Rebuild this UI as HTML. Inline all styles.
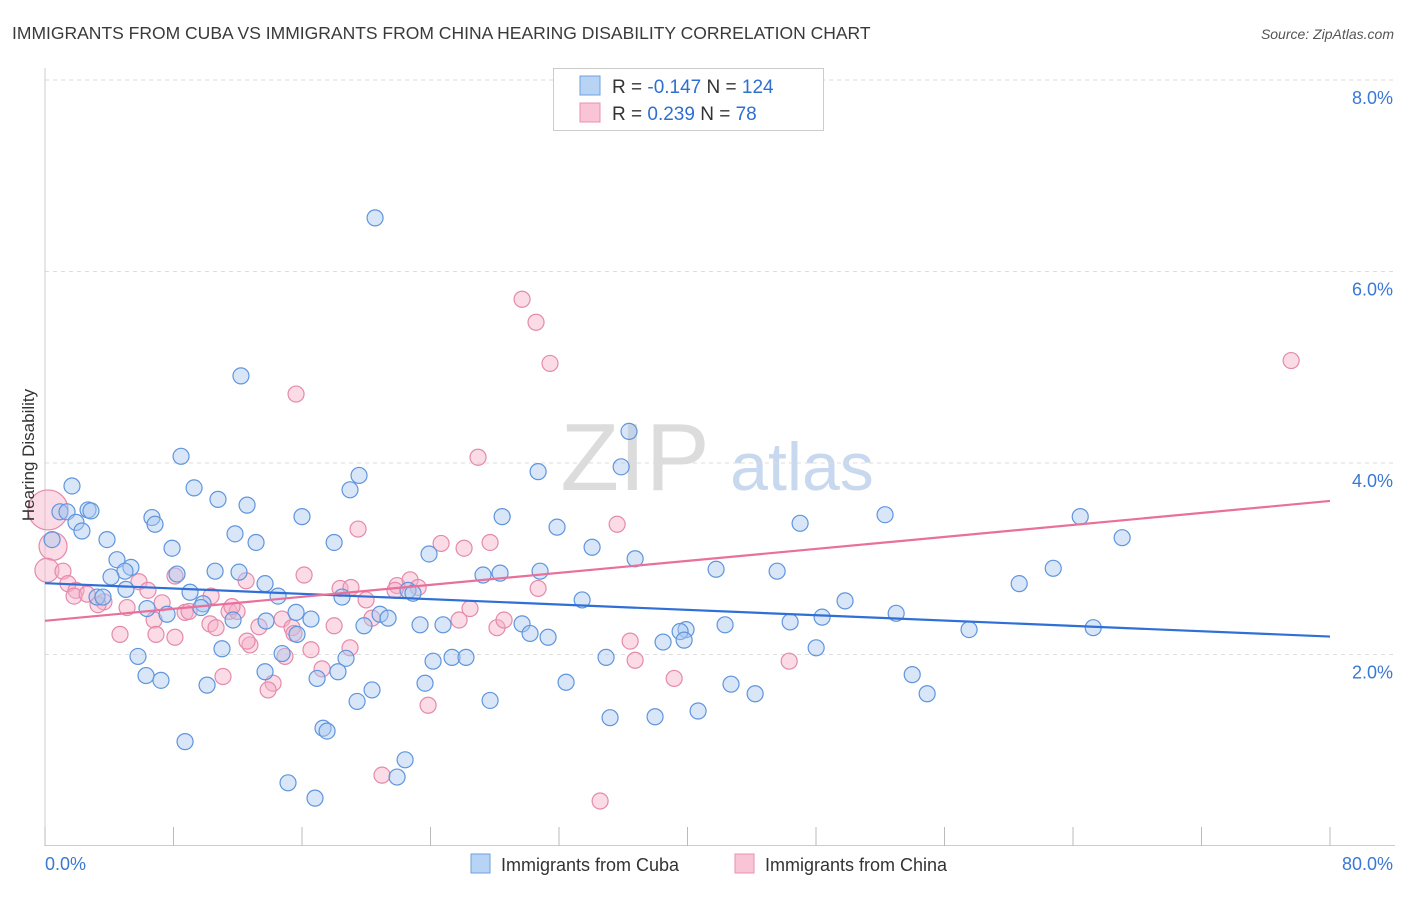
<!DOCTYPE html>
<html><head><meta charset="utf-8"><style>
body{margin:0;background:#fff;font-family:"Liberation Sans",sans-serif}
svg text{font-family:"Liberation Sans",sans-serif}
</style></head><body>
<svg id="chart" width="1406" height="892" viewBox="0 0 1406 892" xmlns="http://www.w3.org/2000/svg">
<text x="12" y="39" font-size="17.5" fill="#3a3a3a">IMMIGRANTS FROM CUBA VS IMMIGRANTS FROM CHINA HEARING DISABILITY CORRELATION CHART</text>
<text x="1394" y="39" font-size="14" fill="#555" font-style="italic" text-anchor="end">Source: ZipAtlas.com</text>
<g>
<text x="635" y="490" font-size="96" fill="#dcdcdc" font-family="Liberation Serif,serif" text-anchor="middle">ZIP</text>
<text x="802" y="490" font-size="68" fill="#c8d8ee" text-anchor="middle">atlas</text>
</g>
<g id="grid"></g>
<g id="axes"></g>
<g id="pts"></g>
<g id="trend"></g>
<text transform="translate(34,455) rotate(-90)" font-size="17" fill="#333" text-anchor="middle">Hearing Disability</text>
<g>
<rect x="553.5" y="68.5" width="270" height="62" fill="#fff" stroke="#ccc"/>
<rect x="580" y="76" width="20" height="19" fill="#b8d4f5" stroke="#6fa0e0"/>
<rect x="580" y="103" width="20" height="19" fill="#f9c4d6" stroke="#e890b0"/>
<text x="612" y="93" font-size="19" fill="#333">R = <tspan fill="#2f6fd0">-0.147</tspan>   N = <tspan fill="#2f6fd0">124</tspan></text>
<text x="612" y="120" font-size="19" fill="#333">R =  <tspan fill="#2f6fd0">0.239</tspan>   N =   <tspan fill="#2f6fd0">78</tspan></text>
</g>
<g>
<rect x="471" y="854" width="19" height="19" fill="#b8d4f5" stroke="#6fa0e0"/>
<text x="501" y="871" font-size="18" fill="#333">Immigrants from Cuba</text>
<rect x="735" y="854" width="19" height="19" fill="#f9c4d6" stroke="#e890b0"/>
<text x="765" y="871" font-size="18" fill="#333">Immigrants from China</text>
</g>
</svg>
<script>
const cubaX=[20.55,12.2,36.36,8.47,19.55,30.7,35.87,18.99,9.28,1.68,10.77,12.58,0.93,1.37,2.68,2.86,16.0,28.46,6.66,6.85,1.93,2.30,11.83,3.86,13.14,18.0,31.88,47.01,52.3,64.45,67.06,0.44,7.91,34.06,23.91,36.74,62.77,4.48,5.35,4.98,4.11,10.59,12.08,27.27,28.33,30.82,41.78,45.58,8.22,13.7,60.65,9.03,5.04,3.24,3.61,14.51,18.49,22.6,22.91,33.44,9.84,6.35,7.60,9.71,15.63,16.56,20.86,21.36,11.71,13.76,19.86,23.35,24.78,29.7,30.2,31.32,39.91,39.54,42.34,46.39,48.38,49.81,52.99,57.53,65.26,11.02,15.69,14.76,5.79,18.74,24.16,25.34,26.21,34.93,38.48,39.79,48.01,6.29,7.22,10.09,13.7,16.94,18.24,20.36,19.43,23.66,27.71,32.44,42.71,44.21,53.99,54.92,35.18,37.98,40.66,17.31,17.56,8.72,22.42,21.92,15.13,16.81];
const cubaY=[6.56,4.91,4.33,4.07,3.87,3.91,3.96,3.72,3.74,3.76,3.62,3.56,3.49,3.49,3.51,3.50,3.44,3.44,3.43,3.36,3.38,3.29,3.26,3.20,3.17,3.17,3.33,3.37,3.46,3.44,3.22,3.20,3.11,3.12,3.05,3.00,2.90,2.99,2.91,2.87,2.81,2.87,2.86,2.83,2.85,2.87,2.89,2.87,2.84,2.74,2.74,2.65,2.68,2.60,2.60,2.61,2.60,2.67,2.64,2.57,2.53,2.48,2.42,2.49,2.44,2.37,2.42,2.38,2.36,2.35,2.30,2.31,2.31,2.32,2.22,2.18,2.26,2.24,2.31,2.34,2.39,2.56,2.43,2.26,2.28,2.06,2.21,2.01,1.98,1.96,1.93,1.97,1.97,1.97,2.13,2.15,2.07,1.78,1.73,1.68,1.82,1.75,1.82,1.63,1.51,1.70,1.52,1.71,1.69,1.59,1.79,1.59,1.34,1.35,1.41,1.23,1.20,1.09,0.90,0.72,0.66,0.50];
const chinaX=[29.7,30.57,31.44,77.58,15.63,26.96,0.19,0.5,0.12,1.12,1.43,1.93,1.81,2.62,19.49,24.66,26.09,27.71,35.62,5.85,6.41,8.09,12.52,16.13,18.37,19.05,21.92,22.73,23.23,21.79,30.7,3.67,3.30,5.11,7.29,8.72,8.97,10.34,11.46,11.96,10.27,10.65,11.64,19.99,6.79,4.67,6.91,8.09,13.32,14.76,15.38,15.5,20.36,25.78,26.46,28.14,28.58,18.0,12.76,14.94,16.56,18.99,12.58,36.43,36.74,46.33,39.17,11.08,17.25,14.2,13.89,23.85,20.98,34.56];
const chinaY=[5.71,5.47,5.04,5.07,4.72,4.06,3.51,3.13,2.88,2.87,2.74,2.67,2.61,2.63,3.31,3.16,3.11,3.17,3.36,2.76,2.67,2.82,2.77,2.83,2.69,2.70,2.72,2.78,2.70,2.67,2.69,2.55,2.52,2.49,2.54,2.44,2.45,2.61,2.45,2.45,2.32,2.28,2.50,2.57,2.36,2.21,2.21,2.18,2.29,2.37,2.28,2.22,2.38,2.36,2.48,2.28,2.36,2.30,2.10,1.98,2.05,2.07,2.14,2.14,1.94,1.93,1.75,1.77,1.85,1.70,1.63,1.47,0.74,0.47];
const chinaR=[8,8,8,8,8,8,20,14,12,8,8,8,8,8,8,8,8,8,8,8,8,8,8,8,8,8,8,8,8,8,8,8,8,8,8,8,8,8,8,8,8,8,8,8,8,8,8,8,8,8,8,8,8,8,8,8,8,8,8,8,8,8,8,8,8,8,8,8,8,8,8,8,8,8];
const xTickLabels=["0.0%","80.0%"];
const yTicks=[2,4,6,8];
const yTickLabels=["2.0%","4.0%","6.0%","8.0%"];
const NS="http://www.w3.org/2000/svg";
const sx=v=>45+v*(1285/80);
const sy=v=>846-v*95.75;
function mk(tag,attrs,parent){const e=document.createElementNS(NS,tag);for(const k in attrs)e.setAttribute(k,attrs[k]);parent.appendChild(e);return e;}
const grid=document.getElementById('grid'),axes=document.getElementById('axes'),pts=document.getElementById('pts'),trend=document.getElementById('trend');
yTicks.forEach((t,i)=>{
 const l=mk('line',{x1:45,x2:1395,y1:sy(t),y2:sy(t),stroke:'#ddd','stroke-dasharray':'4,4'},grid);
 
 
 const tx=mk('text',{x:1393,y:sy(t)+24,'font-size':18,fill:'#3a78d4','text-anchor':'end'},axes);
 tx.textContent=yTickLabels[i];
 
 
});
const a1=mk('line',{x1:45,x2:45,y1:68,y2:846,stroke:'#ccc'},axes);


const a2=mk('line',{x1:45,x2:1395,y1:845.5,y2:845.5,stroke:'#ccc'},axes);


for(let v=0;v<=80;v+=8){
 const t=mk('line',{x1:sx(v),x2:sx(v),y1:827,y2:846,stroke:'#bbb'},axes);
 
 
}
const xl0=mk('text',{x:45,y:870,'font-size':18,fill:'#3a78d4'},axes);xl0.textContent=xTickLabels[0];


const xl1=mk('text',{x:1393,y:870,'font-size':18,fill:'#3a78d4','text-anchor':'end'},axes);xl1.textContent=xTickLabels[1];


function draw(xs,ys,rs,fill,stroke,name){
 xs.forEach((x,i)=>{
  const c=mk('circle',{cx:sx(x),cy:sy(ys[i]),r:rs?rs[i]:8,fill:fill,'fill-opacity':0.45,stroke:stroke,'stroke-width':1.2},pts);
  
  
 });
}
draw(chinaX,chinaY,chinaR,'#f5b0c8','#e58aab','china-point');
draw(cubaX,cubaY,null,'#a9c8f0','#5f95de','cuba-point');
function reg(xs,ys){const n=xs.length;let mx=0,my=0;for(let i=0;i<n;i++){mx+=xs[i];my+=ys[i];}mx/=n;my/=n;let a=0,b=0;for(let i=0;i<n;i++){a+=(xs[i]-mx)*(ys[i]-my);b+=(xs[i]-mx)**2;}const s=a/b;return [my-s*mx,s];}
function tl(xs,ys,col,name){const [b0,s]=reg(xs,ys);const l=mk('line',{x1:sx(0),y1:sy(b0),x2:sx(80),y2:sy(b0+s*80),stroke:col,'stroke-width':2.2},trend);
 
 }
tl(cubaX,cubaY,'#2f6fd6','cuba-trend-line');
tl(chinaX,chinaY,'#e8709a','china-trend-line');
</script>
</body></html>
